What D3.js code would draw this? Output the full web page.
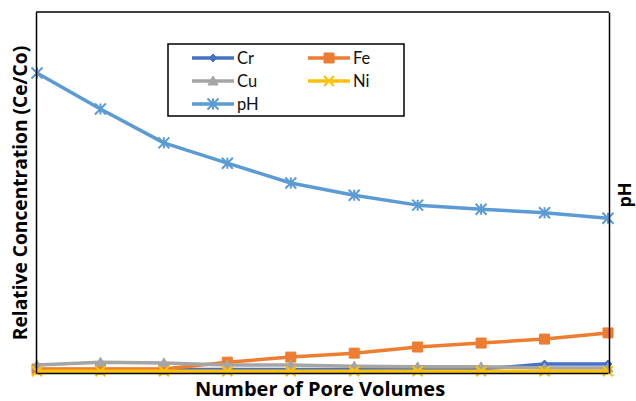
<!DOCTYPE html>
<html>
<head>
<meta charset="utf-8">
<script src="https://cdn.jsdelivr.net/npm/d3@7"></script>
<style>
  html, body { margin: 0; padding: 0; background: #fff; }
  svg { display: block; }
</style>
</head>
<body>
<svg id="chart" width="636" height="401"></svg>
<script>
// Pore volume index for each sample
const poreVolumes = [1, 2, 3, 4, 5, 6, 7, 8, 9, 10];

// Relative concentration (Ce/Co) of each metal
const cr = [0.010, 0.010, 0.010, 0.010, 0.010, 0.010, 0.010, 0.011, 0.025, 0.025];
const fe = [0.011, 0.011, 0.011, 0.030, 0.044, 0.055, 0.072, 0.083, 0.094, 0.111];
const cu = [0.022, 0.030, 0.028, 0.022, 0.022, 0.019, 0.017, 0.017, 0.014, 0.014];
const ni = [0.005, 0.005, 0.005, 0.005, 0.005, 0.005, 0.005, 0.005, 0.005, 0.005];

// Effluent pH (secondary axis)
const ph = [6.65, 5.85, 5.10, 4.65, 4.21, 3.94, 3.72, 3.63, 3.55, 3.43];

const concDomain = [0, 1];
const phDomain = [0, 8];

const series = [
  { name: "Cr", values: cr, color: "#4472C4", marker: "diamond", axis: "left" },
  { name: "Fe", values: fe, color: "#ED7D31", marker: "square", axis: "left" },
  { name: "Cu", values: cu, color: "#A5A5A5", marker: "triangle", axis: "left" },
  { name: "Ni", values: ni, color: "#FFC000", marker: "cross", axis: "left" },
  { name: "pH", values: ph, color: "#5B9BD5", marker: "star", axis: "right" }
];

const svg = d3.select("#chart");
const plot = { left: 36, right: 609, top: 12, bottom: 373 };

const x = d3.scaleLinear()
  .domain(d3.extent(poreVolumes))
  .range([plot.left + 1, plot.right - 1]);
const yConc = d3.scaleLinear().domain(concDomain).range([plot.bottom, plot.top]);
const yPh = d3.scaleLinear().domain(phDomain).range([plot.bottom, plot.top]);

// Axes without ticks or labels
const axisLeft = d3.axisLeft(yConc).tickValues([]).tickSizeOuter(0);
const axisBottom = d3.axisBottom(x).tickValues([]).tickSizeOuter(0);
const axisRight = d3.axisRight(yPh).tickValues([]).tickSizeOuter(0);

function markerPath(type, size) {
  const s = size / 2;
  switch (type) {
    case "diamond": return `M0,${-s}L${s},0L0,${s}L${-s},0Z`;
    case "square": return `M${-s},${-s}H${s}V${s}H${-s}Z`;
    case "triangle": return `M0,${-s}L${s},${s * 0.8}H${-s}Z`;
    case "cross": return `M${-s},${-s}L${s},${s}M${s},${-s}L${-s},${s}`;
    case "star": return `M${-s},${-s}L${s},${s}M${s},${-s}L${-s},${s}M0,${-s}V${s}`;
  }
}
const markerSize = { diamond: 8, square: 10, triangle: 10, cross: 10, star: 11 };
const filled = m => m === "diamond" || m === "square" || m === "triangle";

const lines = svg.append("g");
series.forEach(s => {
  const y = s.axis === "left" ? yConc : yPh;
  const line = d3.line().x((d, i) => x(poreVolumes[i])).y(d => y(d));
  const g = lines.append("g");
  g.append("path")
    .attr("d", line(s.values))
    .attr("fill", "none")
    .attr("stroke", s.color)
    .attr("stroke-width", 3.5)
    .attr("stroke-linejoin", "round");
  g.selectAll("path.mk")
    .data(s.values)
    .join("path")
    .attr("class", "mk")
    .attr("transform", (d, i) => `translate(${x(poreVolumes[i])},${y(d)})`)
    .attr("d", markerPath(s.marker, markerSize[s.marker]))
    .attr("fill", filled(s.marker) ? s.color : "none")
    .attr("stroke", s.color)
    .attr("stroke-width", filled(s.marker) ? 1 : 2);
});

// Plot frame
svg.append("g").attr("transform", `translate(${plot.left},0)`).call(axisLeft)
  .select(".domain").attr("stroke", "#000").attr("stroke-width", 1.5);
svg.append("g").attr("transform", `translate(0,${plot.bottom})`).call(axisBottom)
  .select(".domain").attr("stroke", "#000").attr("stroke-width", 1.5);
svg.append("g").attr("transform", `translate(${plot.right},0)`).call(axisRight)
  .select(".domain").attr("stroke", "#000").attr("stroke-width", 1.5);
svg.append("line")
  .attr("x1", plot.left).attr("x2", plot.right)
  .attr("y1", plot.top).attr("y2", plot.top)
  .attr("stroke", "#000").attr("stroke-width", 1.5);

// Axis titles
const titleFont = "'Open Sans', 'DejaVu Sans', sans-serif";
svg.append("text")
  .attr("x", 320)
  .attr("y", 396)
  .attr("text-anchor", "middle")
  .attr("font-family", titleFont)
  .attr("font-weight", "bold")
  .attr("font-size", 20)
  .text("Number of Pore Volumes");
svg.append("text")
  .attr("transform", "translate(27,193) rotate(-90)")
  .attr("text-anchor", "middle")
  .attr("font-family", titleFont)
  .attr("font-weight", "bold")
  .attr("font-size", 19.2)
  .text("Relative Concentration (Ce/Co)");
svg.append("text")
  .attr("transform", "translate(631,195) rotate(-90)")
  .attr("text-anchor", "middle")
  .attr("font-family", titleFont)
  .attr("font-weight", "bold")
  .attr("font-size", 18)
  .text("pH");

// Legend
const legend = svg.append("g");
legend.append("rect")
  .attr("x", 168).attr("y", 44).attr("width", 236).attr("height", 72)
  .attr("fill", "#fff").attr("stroke", "#000").attr("stroke-width", 1.5);
const legendPos = [
  { x: 192, y: 58 }, { x: 308, y: 58 },
  { x: 192, y: 81 }, { x: 308, y: 81 },
  { x: 192, y: 104 }
];
series.forEach((s, i) => {
  const p = legendPos[i];
  const g = legend.append("g").attr("transform", `translate(${p.x},${p.y})`);
  g.append("line").attr("x1", 0).attr("x2", 42)
    .attr("stroke", s.color).attr("stroke-width", 3.5);
  g.append("path")
    .attr("transform", "translate(21,0)")
    .attr("d", markerPath(s.marker, markerSize[s.marker]))
    .attr("fill", filled(s.marker) ? s.color : "none")
    .attr("stroke", s.color)
    .attr("stroke-width", filled(s.marker) ? 1 : 2);
  g.append("text")
    .attr("x", 45).attr("y", 0).attr("dy", "0.36em")
    .attr("font-family", "Lato, 'Open Sans', sans-serif")
    .attr("font-size", 16.5)
    .attr("fill", "#111")
    .text(s.name);
});
</script>
</body>
</html>
